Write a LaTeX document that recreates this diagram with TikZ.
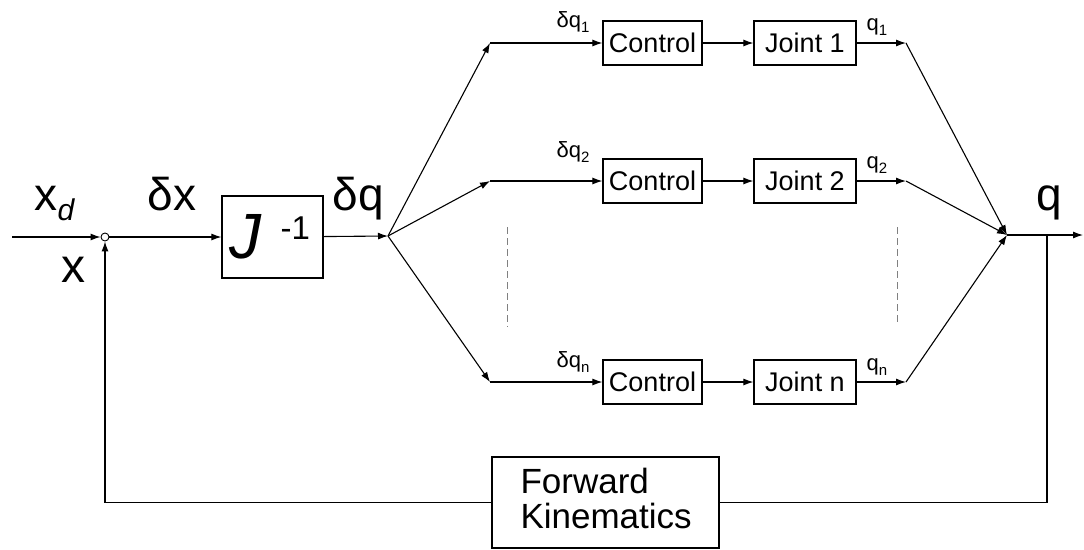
\documentclass[tikz,border=0pt]{standalone}
\usepackage{fontspec}
\setmainfont{Liberation Sans}
\usetikzlibrary{arrows.meta}
\newcommand\fsz[1]{\fontsize{#1pt}{#1pt}\selectfont}
\begin{document}
\begin{tikzpicture}[x=1pt,y=-1pt,line width=1.1pt,
  blk/.style={draw,line width=1.2pt,inner sep=0pt,minimum height=44pt,font=\fsz{27}},
  sig/.style={-{Latex[length=10pt,width=7pt]}},
  lbl/.style={anchor=base west,inner sep=0pt},
  sep/.style={draw=gray,dash pattern=on 7pt off 4pt,line width=0.9pt}]
\useasboundingbox (0,0) rectangle (1084,549);

% summing junction, inverse Jacobian and the fan-out point
\node[circle,draw,minimum size=8pt,inner sep=0pt,line width=0.9pt] (sum) at (105,237) {};
\coordinate (in) at (12,237);
\node[blk,minimum width=101pt,minimum height=82pt] (J) at (272.5,237) {};
\node[lbl,font=\fsz{64}\itshape] (Jt) at (229,258) {J};
\node[lbl,font=\fsz{33}] (Jexp) at (280,239) {-1};
\coordinate (fan) at (388,236);

\draw[sig] (in) -- (sum);
\draw[sig] (sum) -- (J);
\draw[sig] (J) -- (fan);

% signal labels on the main path
\node[lbl,font=\fsz{46}] (xd) at (34,210) {x\raisebox{-10pt}{\fsz{30}\itshape d}};
\node[lbl,font=\fsz{48}] (xf) at (61,282) {x};
\node[lbl,font=\fsz{46}] (dx) at (147,210) {δx};
\node[lbl,font=\fsz{46}] (dq) at (332,210) {δq};
\node[lbl,font=\fsz{46}] (qo) at (1036,210) {q};

% merge point and output
\coordinate (merge) at (1007,235);
\coordinate (out) at (1083,235);
\coordinate (tap) at (1047,235);
\draw[sig] (merge) -- (out);

% joint channels
\foreach \i/\y/\dl/\ql/\s in {1/43/27/30/1, 2/181/157/168/2, n/382/367/370/n}{
  \node[blk,minimum width=99pt] (C\i) at (652.5,\y) {Control};
  \node[blk,minimum width=102pt] (P\i) at (805,\y) {Joint \s};
  \coordinate (a\i) at (490,\y);
  \coordinate (b\i) at (906,\y);
  \node[anchor=base east,inner sep=0pt,font=\fsz{22}] (dql\i) at (590,\dl) {δq\raisebox{-5pt}{\fsz{15}\s}};
  \node[lbl,font=\fsz{22}] (ql\i) at (866,\ql) {q\raisebox{-5pt}{\fsz{15}\s}};
  \draw[sig] (fan) -- (a\i);
  \draw[sig] (a\i) -- (C\i);
  \draw[sig] (C\i) -- (P\i);
  \draw[sig] (P\i) -- (b\i);
  \draw[sig] (b\i) -- (merge);
}

% channels omitted between 2 and n
\draw[sep] (507,227) -- (507,327);
\draw[sep] (897,227) -- (897,325);

% feedback through forward kinematics
\node[blk,minimum width=227pt,minimum height=91pt] (FK) at (605.5,502.5) {};
\node[lbl,font=\fsz{35}] (fk1) at (520,493) {Forward};
\node[lbl,font=\fsz{35}] (fk2) at (520,528) {Kinematics};
\draw (tap) |- (FK);
\draw[sig] (FK) -| (sum);
\end{tikzpicture}
\end{document}
